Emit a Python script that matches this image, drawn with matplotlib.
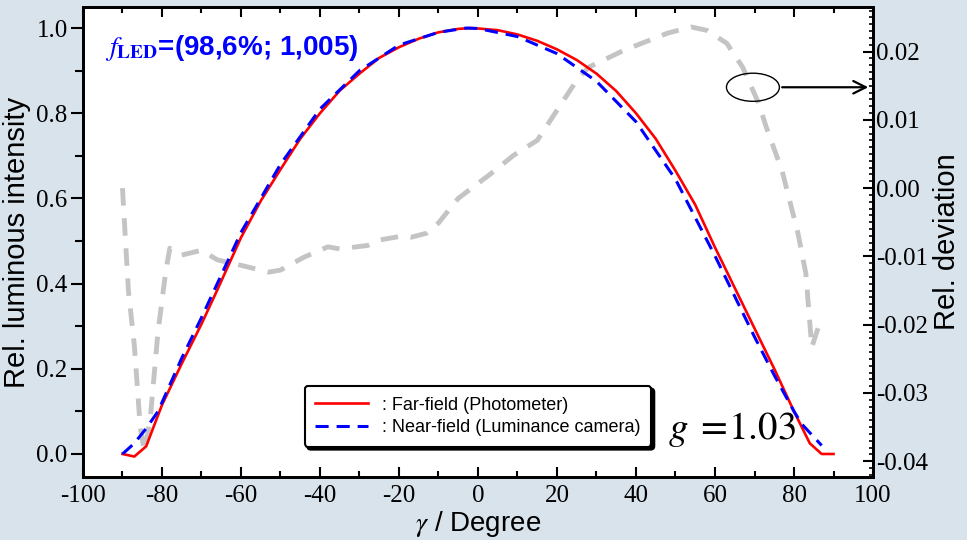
import numpy as np
import matplotlib
matplotlib.use('Agg')
import matplotlib.pyplot as plt
from matplotlib.patches import Ellipse

plt.rcParams['mathtext.fontset'] = 'stix'
plt.rcParams['axes.unicode_minus'] = False

# Far-field (photometer)
far_deg = [-90, -87, -84, -80, -75, -70, -66, -60, -55, -50, -45, -40, -35, -30, -25,
           -20, -15, -10, -5, -2, 0, 5, 10, 15, 20, 25, 30, 35, 40, 45, 50, 55, 60,
           65, 70, 75, 80, 84, 87, 90]
far_val = [0.0, -0.006, 0.018, 0.115, 0.212, 0.305, 0.385, 0.508, 0.594, 0.668, 0.74,
           0.80, 0.853, 0.893, 0.93, 0.955, 0.975, 0.99, 0.998, 1.0, 0.999, 0.995, 0.985,
           0.97, 0.95, 0.925, 0.893, 0.852, 0.80, 0.74, 0.665, 0.585, 0.485, 0.39, 0.295,
           0.2, 0.1, 0.025, 0.0, 0.0]

# Near-field (luminance camera)
near_deg = [-90, -87, -84, -81, -75, -70, -60, -50, -40, -30, -20, -10, -3, 0, 10, 20,
            30, 40, 50, 60, 65, 70, 75, 80, 82, 84, 87]
near_val = [0.0, 0.025, 0.06, 0.1, 0.225, 0.32, 0.52, 0.68, 0.81, 0.90, 0.96, 0.99, 1.0,
            0.999, 0.98, 0.94, 0.875, 0.78, 0.645, 0.465, 0.37, 0.275, 0.185, 0.1, 0.07,
            0.05, 0.02]

# Relative deviation (right axis)
dev_deg = [-90, -88.5, -87, -85.5, -84.5, -83, -81, -79, -78, -75, -70, -66, -60, -53,
           -50, -44, -38, -35, -28, -25, -19, -17, -13, -10, -5, 0, 3, 9, 15, 25, 28, 37,
           48, 54, 58, 63, 67, 71, 73, 77, 81, 83, 84.5, 87]
dev_val = [0.000, -0.015, -0.023, -0.035, -0.0385, -0.034, -0.021, -0.012, -0.0088,
           -0.0098, -0.0091, -0.0105, -0.0113, -0.0123, -0.0120, -0.0101, -0.0086, -0.0089,
           -0.0084, -0.0076, -0.0070, -0.0072, -0.0066, -0.0051, -0.0015, 0.0007, 0.0020,
           0.0048, 0.0070, 0.0158, 0.0177, 0.0202, 0.0227, 0.0236, 0.0231, 0.0212, 0.0177,
           0.0125, 0.0089, 0.0025, -0.0066, -0.0125, -0.0233, -0.0189]

fig = plt.figure(figsize=(9.67, 5.40), dpi=100, facecolor='#d9e3ec')
ax1 = fig.add_axes([0.0858, 0.1167, 0.817, 0.870])
ax2 = ax1.twinx()
ax1.set_zorder(ax2.get_zorder() + 1)
ax1.patch.set_visible(False)
ax2.patch.set_visible(True)
ax2.patch.set_facecolor('white')

# gray deviation curve behind the others
ax2.plot(dev_deg, dev_val, color='#c4c4c4', lw=3.5, dashes=(3.6, 2.6))
ax2.set_ylim(-0.0423, 0.0265)
ax2.set_yticks([-0.04, -0.03, -0.02, -0.01, 0.00, 0.01, 0.02])
ax2.set_yticklabels(['-0.04', '-0.03', '-0.02', '-0.01', '0.00', '0.01', '0.02'])
ax2.set_yticks(np.arange(-0.042, 0.0265, 0.001), minor=True)
ax2.tick_params(axis='y', which='major', direction='in', length=7, width=1.5, pad=2,
                labelsize=18, labelfontfamily='Liberation Serif')
ax2.tick_params(axis='y', which='minor', direction='in', length=3, width=1.2)
ax2.set_ylabel('Rel. deviation', family='Liberation Sans', fontsize=21, labelpad=4)

ax1.plot(far_deg, far_val, color='red', lw=1.9, label=': Far-field (Photometer)')
ax1.plot(near_deg, near_val, color='blue', lw=2.2, dashes=(4.3, 2.6),
         label=': Near-field (Luminance camera)')

ax1.set_xlim(-100, 100)
ax1.set_ylim(-0.054, 1.049)
ax1.set_xticks(range(-100, 101, 20))
ax1.set_xticks(range(-90, 100, 20), minor=True)
ax1.set_yticks([0.0, 0.2, 0.4, 0.6, 0.8, 1.0])
ax1.set_yticks([0.1, 0.3, 0.5, 0.7, 0.9], minor=True)
ax1.set_yticklabels(['0.0', '0.2', '0.4', '0.6', '0.8', '1.0'])
ax1.tick_params(axis='x', which='both', direction='in', top=True, bottom=True,
                labelsize=18, labelfontfamily='Liberation Serif', pad=6)
ax1.tick_params(axis='x', which='major', length=7, width=1.5)
ax1.tick_params(axis='x', which='minor', length=4, width=1.5)
ax1.tick_params(axis='y', which='both', direction='out', right=False,
                labelsize=18, labelfontfamily='Liberation Serif', pad=2)
ax1.tick_params(axis='y', which='major', length=9, width=1.5)
ax1.tick_params(axis='y', which='minor', length=6, width=1.5)
for sp in list(ax1.spines.values()) + list(ax2.spines.values()):
    sp.set_linewidth(2.0)

ax1.set_ylabel('Rel. luminous intensity', family='Liberation Sans', fontsize=21, labelpad=4)
ax1.set_xlabel(r'$\gamma$ / Degree', family='Liberation Sans', fontsize=20, labelpad=1)

ax1.text(-94.5, 0.953, r'$f_{\mathbf{LED}}$=(98,6%; 1,005)', color='blue',
         family='Liberation Sans', weight='bold', fontsize=20, va='center', ha='left')
ax1.text(48, 0.035, r'$g\;=\!1.03$', fontsize=28, va='baseline', ha='left')

# ellipse + arrow pointing to right axis
ax1.add_patch(Ellipse((69.6, 0.861), 13.4, 0.066, fill=False, ec='black', lw=1.0))
ax1.annotate('', xy=(99.5, 0.861), xytext=(76.3, 0.861),
             arrowprops=dict(arrowstyle='->,head_length=0.9,head_width=0.45',
                             color='black', lw=1.6))

leg = ax1.legend(loc='lower center', bbox_to_anchor=(0.5, 0.045),
                 prop={'family': 'Liberation Sans', 'size': 13}, frameon=True,
                 fancybox=True, shadow={'color': 'black', 'alpha': 1.0},
                 handlelength=2.9, borderpad=0.6, labelspacing=0.3, handletextpad=0.8)
leg.get_frame().set_edgecolor('black')
leg.get_frame().set_linewidth(1.5)
leg.get_frame().set_alpha(1.0)

fig.savefig('out.png', dpi=100, facecolor=fig.get_facecolor())
